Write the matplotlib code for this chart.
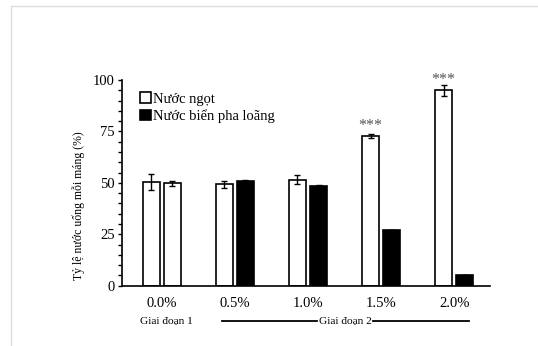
import matplotlib
matplotlib.use('Agg')
import matplotlib.pyplot as plt
from matplotlib.patches import Patch
from matplotlib.lines import Line2D
import numpy as np

# data
categories = ['0.0%', '0.5%', '1.0%', '1.5%', '2.0%']
fresh = [50.2, 49.3, 51.6, 72.9, 95.0]
fresh_err = [3.9, 1.7, 2.4, 1.0, 2.7]
second = [49.7, 50.9, 48.7, 27.2, 5.2]
second_err = [1.0, 0.3, 0.3, 0.0, 0.0]
second_colors = ['white', 'black', 'black', 'black', 'black']
stars = ['', '', '', '***', '***']

plt.rcParams['font.family'] = ['Liberation Serif', 'DejaVu Serif']

fig = plt.figure(figsize=(5.38, 3.46), dpi=100)
ax = fig.add_axes([0.2268, 0.1743, 0.684, 0.5945])

x = np.arange(len(categories))
w = 0.233
off = 0.144

ax.bar(x - off, fresh, w, color='white', edgecolor='black', linewidth=1.2,
       yerr=fresh_err, error_kw=dict(ecolor='black', elinewidth=1, capsize=2, capthick=1))
ax.bar(x + off, second, w, color=second_colors, edgecolor='black', linewidth=1.2,
       yerr=second_err, error_kw=dict(ecolor='black', elinewidth=1, capsize=2, capthick=1))

# significance marks
for i, s in enumerate(stars):
    if s:
        ax.text(x[i] - off, fresh[i] + 4.8, s, ha='center', va='center',
                fontsize=11.5, color='#555555', clip_on=False)

ax.set_xlim(-0.545, 4.49)
ax.set_ylim(0, 100)
ax.set_yticks([0, 25, 50, 75, 100])
ax.set_yticks(np.arange(0, 101, 5), minor=True)
ax.set_xticks(x)
ax.set_xticklabels(categories)
ax.tick_params(axis='x', length=0, labelsize=10.5, pad=8)
ax.tick_params(axis='y', which='both', direction='out', length=3, width=1, labelsize=10.5, pad=2)
for side in ['top', 'right']:
    ax.spines[side].set_visible(False)
ax.spines['left'].set_linewidth(1.2)
ax.spines['bottom'].set_linewidth(1.2)

ax.set_ylabel('Tỷ lệ nước uống mỗi máng (%)', fontsize=8.5)
ax.yaxis.set_label_coords(-0.1, 0.39)

handles = [Patch(facecolor='white', edgecolor='black', linewidth=1.2, label='Nước ngọt'),
           Patch(facecolor='black', edgecolor='black', linewidth=1.2, label='Nước biển pha loãng')]
ax.legend(handles=handles, loc='upper left', bbox_to_anchor=(0.05, 0.94), frameon=False,
          fontsize=10.5, handlelength=0.7, handleheight=0.7, handletextpad=0.15,
          labelspacing=0.25, borderpad=0, borderaxespad=0)

# stage labels under the axis
fig.text(166.7 / 538, 1 - 321 / 346, 'Giai đoạn 1', ha='center', va='center', fontsize=8.2)
fig.text(345 / 538, 1 - 321 / 346, 'Giai đoạn 2', ha='center', va='center', fontsize=8.2)
ly = 1 - 321 / 346
fig.add_artist(Line2D([221.7 / 538, 316.7 / 538], [ly, ly], color='black', linewidth=1.3))
fig.add_artist(Line2D([373 / 538, 469 / 538], [ly, ly], color='black', linewidth=1.3))

# faint frame at the top and left of the image
fy = 1 - 6 / 346
fx = 11 / 538
fig.add_artist(Line2D([fx, 1], [fy, fy], color='#dddddd', linewidth=1))
fig.add_artist(Line2D([fx, fx], [0, fy], color='#dddddd', linewidth=1))

fig.savefig('out.png', dpi=100)
